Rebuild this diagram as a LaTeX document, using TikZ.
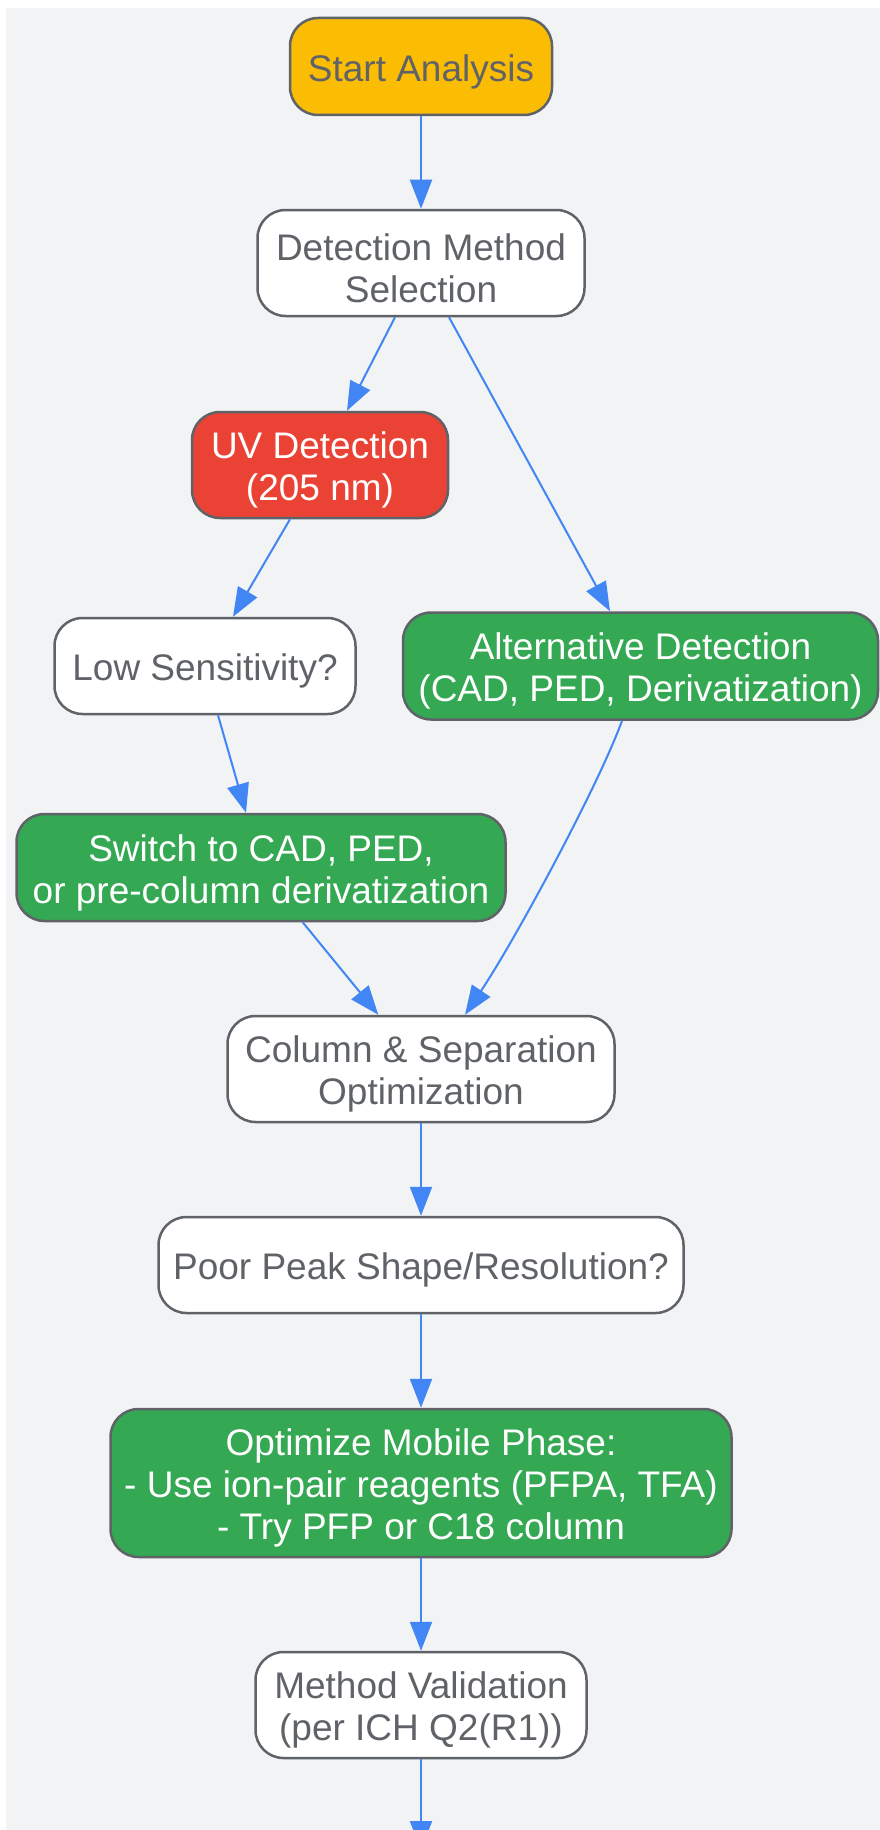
\documentclass[tikz,border=0pt]{standalone}
\usepackage{fontspec}
\setmainfont{Liberation Sans}
\usetikzlibrary{arrows.meta}
\definecolor{bgcol}{HTML}{F1F3F5}
\definecolor{bordergray}{HTML}{5F6368}
\definecolor{textgray}{HTML}{5F6368}
\definecolor{arrowblue}{HTML}{4285F4}
\definecolor{gyellow}{HTML}{FBBC04}
\definecolor{gred}{HTML}{EA4335}
\definecolor{ggreen}{HTML}{34A853}
\newcommand{\tdn}{\rule{0pt}{37pt}}
\begin{document}
\begin{tikzpicture}[x=1pt,y=-1pt,
  box/.style={draw=bordergray, line width=2.5pt, rounded corners=28pt, inner sep=0pt,
    align=center, font=\fontsize{37}{42}\selectfont, text=textgray, fill=white},
  yellowbox/.style={box, fill=gyellow},
  redbox/.style={box, fill=gred, text=white},
  greenbox/.style={box, fill=ggreen, text=white},
  arr/.style={draw=arrowblue, line width=2pt, -{Triangle[length=29pt,width=22pt]}}]
\useasboundingbox (0,0) rectangle (880,1830);
\clip (0,0) rectangle (880,1830);
\fill[bgcol] (6,8) rectangle (880,1830);

\node[yellowbox, minimum width=262pt, minimum height=97pt] (start) at (421,66.5) {\tdn Start Analysis};
\node[box, minimum width=327pt, minimum height=106pt] (detect) at (421,263) {\tdn Detection Method\\Selection};
\node[redbox, minimum width=256pt, minimum height=106pt] (uv) at (320,465) {\tdn UV Detection\\(205 nm)};
\node[box, minimum width=301pt, minimum height=96pt] (low) at (205,666) {\tdn Low Sensitivity?};
\node[greenbox, minimum width=475pt, minimum height=107pt] (alt) at (640.5,666) {\tdn Alternative Detection\\(CAD, PED, Derivatization)};
\node[greenbox, minimum width=489pt, minimum height=107pt] (switch) at (261,867.5) {\tdn Switch to CAD, PED,\\or pre-column derivatization};
\node[box, minimum width=387pt, minimum height=106pt] (col) at (421,1069) {\tdn Column \& Separation\\Optimization};
\node[box, minimum width=525pt, minimum height=96pt] (poor) at (421,1265) {\tdn Poor Peak Shape/Resolution?};
\node[greenbox, minimum width=621pt, minimum height=148pt] (opt) at (421,1483) {\tdn Optimize Mobile Phase:\\- Use ion-pair reagents (PFPA, TFA)\\- Try PFP or C18 column};
\node[box, minimum width=331pt, minimum height=106pt] (val) at (421,1705) {\tdn Method Validation\\(per ICH Q2(R1))};
\coordinate (next) at (421,1850);

\draw[arr] (start.south) -- (detect.north);
\draw[arr] ([xshift=-26pt]detect.south) -- ([xshift=27pt]uv.north);
\draw[arr] ([xshift=28pt]detect.south) -- ([xshift=-30.5pt]alt.north);
\draw[arr] ([xshift=-30pt]uv.south) -- ([xshift=28pt]low.north);
\draw[arr] ([xshift=13pt]low.south) -- ([xshift=-15pt]switch.north);
\draw[arr] ([xshift=41.7pt]switch.south) -- ([xshift=-42.7pt]col.north);
\draw[arr] ([xshift=-18.5pt]alt.south) .. controls +(-24,66) and +(49,-73) .. ([xshift=44pt]col.north);
\draw[arr] (col.south) -- (poor.north);
\draw[arr] (poor.south) -- (opt.north);
\draw[arr] (opt.south) -- (val.north);
\draw[arr] (val.south) -- (next);
\end{tikzpicture}
\end{document}
